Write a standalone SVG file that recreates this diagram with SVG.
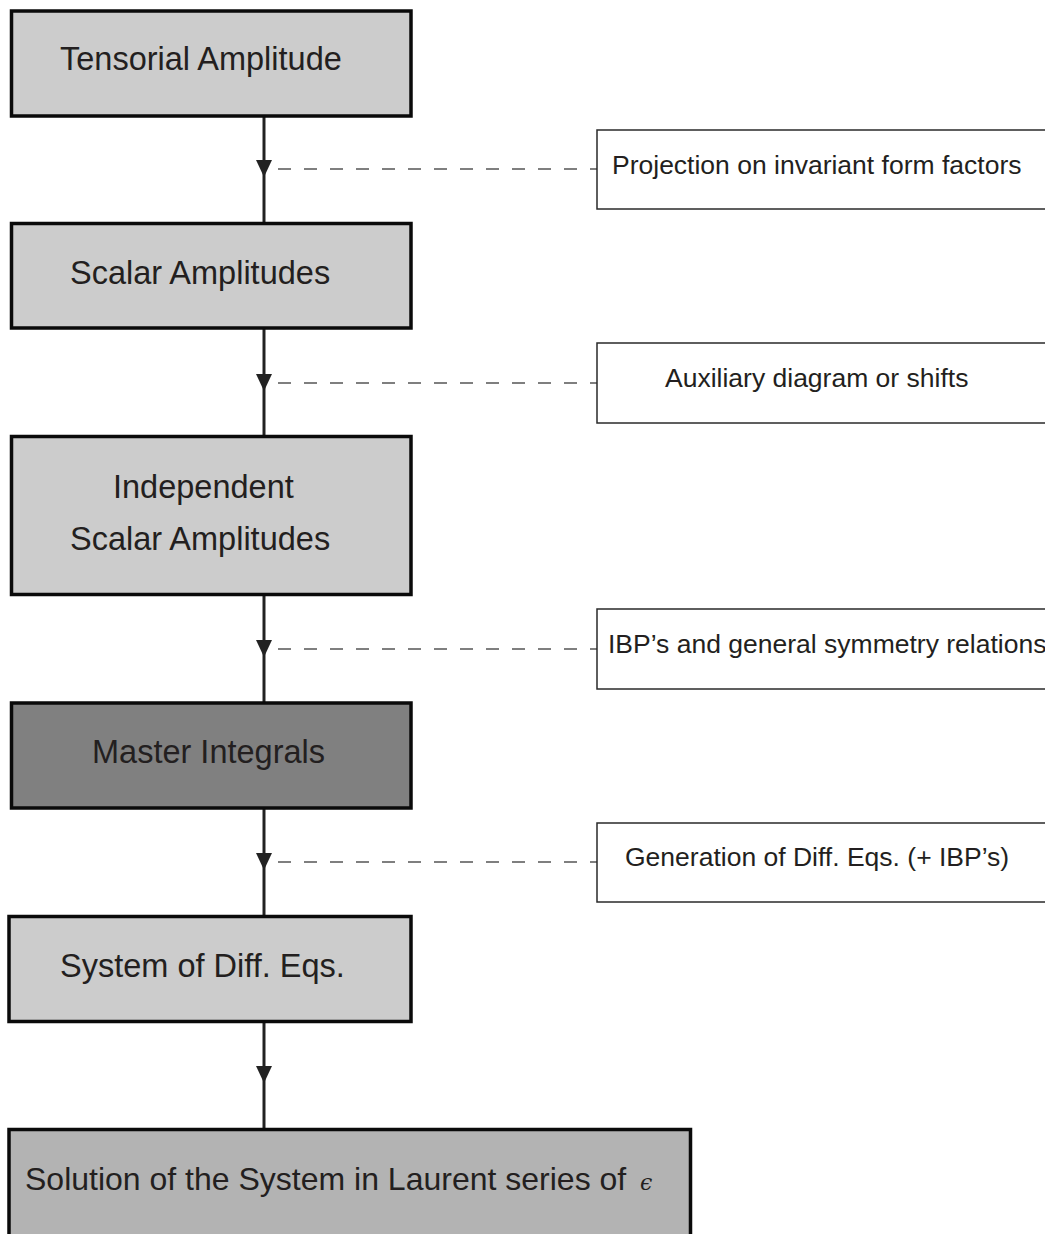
<svg xmlns="http://www.w3.org/2000/svg" width="1045" height="1234" viewBox="0 0 1045 1234">
<defs>
<style>
.box{stroke:#0a0a0a;stroke-width:3.5}
.light{fill:#cccccc}
.dark{fill:#808080}
.mid{fill:#b3b3b3}
.side{fill:#fff;stroke:#2a2a2a;stroke-width:1.5}
.t{font-family:"Liberation Sans",Arial,sans-serif;font-size:32.5px;fill:#231f20}
.s{font-family:"Liberation Sans",Arial,sans-serif;font-size:26.5px;fill:#231f20}
.flow{stroke:#222;stroke-width:3;fill:none}
.dash{stroke:#555;stroke-width:1.5;stroke-dasharray:13 13;fill:none}
.head{fill:#222}
</style>
</defs>
<rect width="1045" height="1234" fill="#fff"/>
<g id="connectors">
<line class="flow" x1="264" y1="116" x2="264" y2="223"/>
<line class="flow" x1="264" y1="328" x2="264" y2="436"/>
<line class="flow" x1="264" y1="595" x2="264" y2="703"/>
<line class="flow" x1="264" y1="808" x2="264" y2="916"/>
<line class="flow" x1="264" y1="1021" x2="264" y2="1129"/>
<polygon class="head" points="256,160 272,160 264,177"/>
<polygon class="head" points="256,374 272,374 264,391"/>
<polygon class="head" points="256,640 272,640 264,657"/>
<polygon class="head" points="256,853 272,853 264,870"/>
<polygon class="head" points="256,1066 272,1066 264,1083"/>
<line class="dash" x1="278" y1="169" x2="597" y2="169"/>
<line class="dash" x1="278" y1="383" x2="597" y2="383"/>
<line class="dash" x1="278" y1="649" x2="597" y2="649"/>
<line class="dash" x1="278" y1="862" x2="597" y2="862"/>
</g>
<g id="n1">
<rect class="box light" x="11.5" y="11" width="399.5" height="105"/>
<text class="t" x="60" y="70">Tensorial Amplitude</text>
</g>
<g id="n2">
<rect class="box light" x="11.5" y="223.5" width="399.5" height="104.5"/>
<text class="t" x="70" y="284">Scalar Amplitudes</text>
</g>
<g id="n3">
<rect class="box light" x="11.5" y="436.5" width="399.5" height="158"/>
<text class="t" x="113" y="498">Independent</text>
<text class="t" x="70" y="550">Scalar Amplitudes</text>
</g>
<g id="n4">
<rect class="box dark" x="11.5" y="703" width="399.5" height="105"/>
<text class="t" x="92" y="763">Master Integrals</text>
</g>
<g id="n5">
<rect class="box light" x="9" y="916.5" width="402" height="105"/>
<text class="t" x="60" y="977">System of Diff. Eqs.</text>
</g>
<g id="n6">
<rect class="box mid" x="9" y="1129.5" width="681.5" height="120"/>
<text class="t" x="25" y="1190" style="font-size:32px">Solution of the System in Laurent series of</text>
<text x="640" y="1190" font-family="'DejaVu Serif',serif" font-style="italic" font-size="22" fill="#231f20">ϵ</text>
</g>
<g id="s1">
<rect class="side" x="597" y="130" width="460" height="79"/>
<text class="s" x="612" y="174">Projection on invariant form factors</text>
</g>
<g id="s2">
<rect class="side" x="597" y="343" width="460" height="80"/>
<text class="s" x="665" y="387">Auxiliary diagram or shifts</text>
</g>
<g id="s3">
<rect class="side" x="597" y="609" width="460" height="80"/>
<text class="s" x="608" y="653">IBP’s and general symmetry relations</text>
</g>
<g id="s4">
<rect class="side" x="597" y="823" width="460" height="79"/>
<text class="s" x="625" y="866">Generation of Diff. Eqs. (+ IBP’s)</text>
</g>
</svg>
